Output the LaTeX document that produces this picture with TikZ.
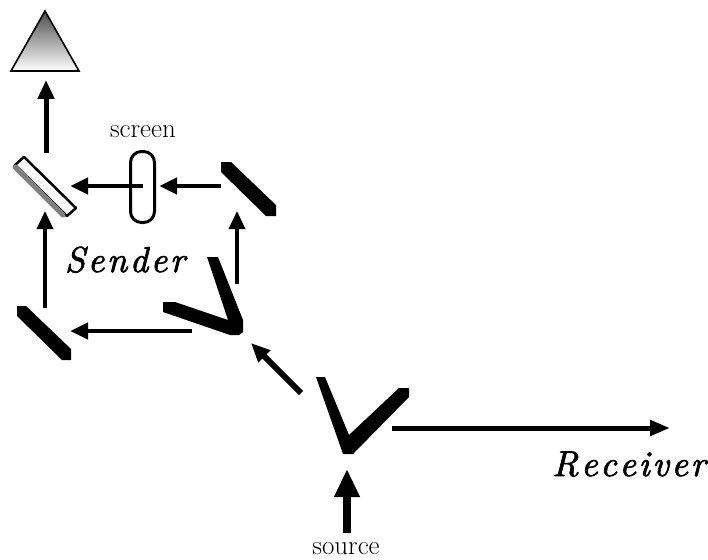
\documentclass[tikz,border=0pt]{standalone}
\usepackage{fontspec}
\usetikzlibrary{arrows.meta,shadings}
\font\bigitalic="[lmroman10-italic]:embolden=2" at 36pt
\begin{document}
\begin{tikzpicture}[x=1pt,y=-1pt,
  beam/.style={line width=4.5pt,-{Triangle[length=18pt,width=16pt]}},
  thinbeam/.style={line width=3.5pt,-{Triangle[length=18pt,width=16pt]}},
  thickbeam/.style={line width=5pt,-{Triangle[length=19pt,width=16pt]}},
  mirrorblack/.style={fill=black,draw=none},
  caption/.style={inner sep=0pt,anchor=base,font=\fontsize{27}{29}\selectfont},
  bigcaption/.style={inner sep=0pt,anchor=base,font=\bigitalic}
]
\useasboundingbox (0,0) rectangle (708,559);
% detector
\shade[top color=black!70,bottom color=white,shading angle=0] (45,11) -- (79,71) -- (11,71) -- cycle;
\draw[line width=1.6pt,line join=miter] (45,11) -- (79,71) -- (11,71) -- cycle;
% half-silvered mirror
\draw[line width=2.5pt,fill=white,line join=round] (24,157) -- (76,208) -- (67,216) -- (15,165) -- cycle;
\draw[line width=5pt,draw=black!50,line cap=round] (15,167) -- (63,215);
% screen
\node[draw,line width=3pt,rounded corners=11pt,minimum width=24pt,minimum height=71pt,inner sep=0pt] (scr) at (142.5,187) {};
% mirrors
\fill[mirrorblack] (221,162) -- (231,162) -- (276,205) -- (276,216) -- (266,216) -- (221,172) -- cycle;
\fill[mirrorblack] (17,306) -- (26,306) -- (71,349) -- (71,360) -- (62,360) -- (17,316) -- cycle;
\fill[mirrorblack] (163,302) -- (175,302) -- (228,320) -- (207,257) -- (218,257) -- (243,320) -- (243,332) -- (239,335) -- (230,335) -- (163,312) -- cycle;
\fill[mirrorblack] (316,377) -- (325,377) -- (349,435) -- (399,388) -- (409,388) -- (409,397) -- (353,454) -- (343,454) -- cycle;
% beam end points
\coordinate (a1) at (46,153); \coordinate (a2) at (46,80);
\coordinate (b1) at (143,186); \coordinate (b2) at (70,186);
\coordinate (c1) at (221,186); \coordinate (c2) at (159,186);
\coordinate (d1) at (237,284); \coordinate (d2) at (237,211);
\coordinate (e1) at (45,308); \coordinate (e2) at (45,211);
\coordinate (f1) at (192,331); \coordinate (f2) at (70,331);
\coordinate (g1) at (301,393); \coordinate (g2) at (251,343);
\coordinate (h1) at (392,428); \coordinate (h2) at (670,428);
\coordinate (i1) at (347,533); \coordinate (i2) at (347,469);
\draw[thickbeam] (a1) -- (a2);
\draw[beam] (b1) -- (b2);
\draw[beam] (c1) -- (c2);
\draw[thinbeam] (d1) -- (d2);
\draw[thinbeam] (e1) -- (e2);
\draw[beam] (f1) -- (f2);
\draw[line width=6pt,-{Triangle[length=19pt,width=16pt]}] (g1) -- (g2);
\draw[line width=5pt,-{Triangle[length=20pt,width=15pt]}] (h1) -- (h2);
\draw[line width=8pt,-{Triangle[length=28pt,width=24pt]}] (i1) -- (i2);
% labels
\node[caption] (lscreen) at (143,137) {screen};
\node[caption] (lsource) at (346,554) {source};
\node[bigcaption] (lsender) at (125,272) {S\kern2.6pt e\kern2.6pt n\kern2.6pt d\kern2.6pt e\kern2.6pt r};
\node[bigcaption] (lreceiver) at (629,476) {R\kern2.6pt e\kern2.6pt c\kern2.6pt e\kern2.6pt i\kern2.6pt v\kern2.6pt e\kern2.6pt r};
\end{tikzpicture}
\end{document}
